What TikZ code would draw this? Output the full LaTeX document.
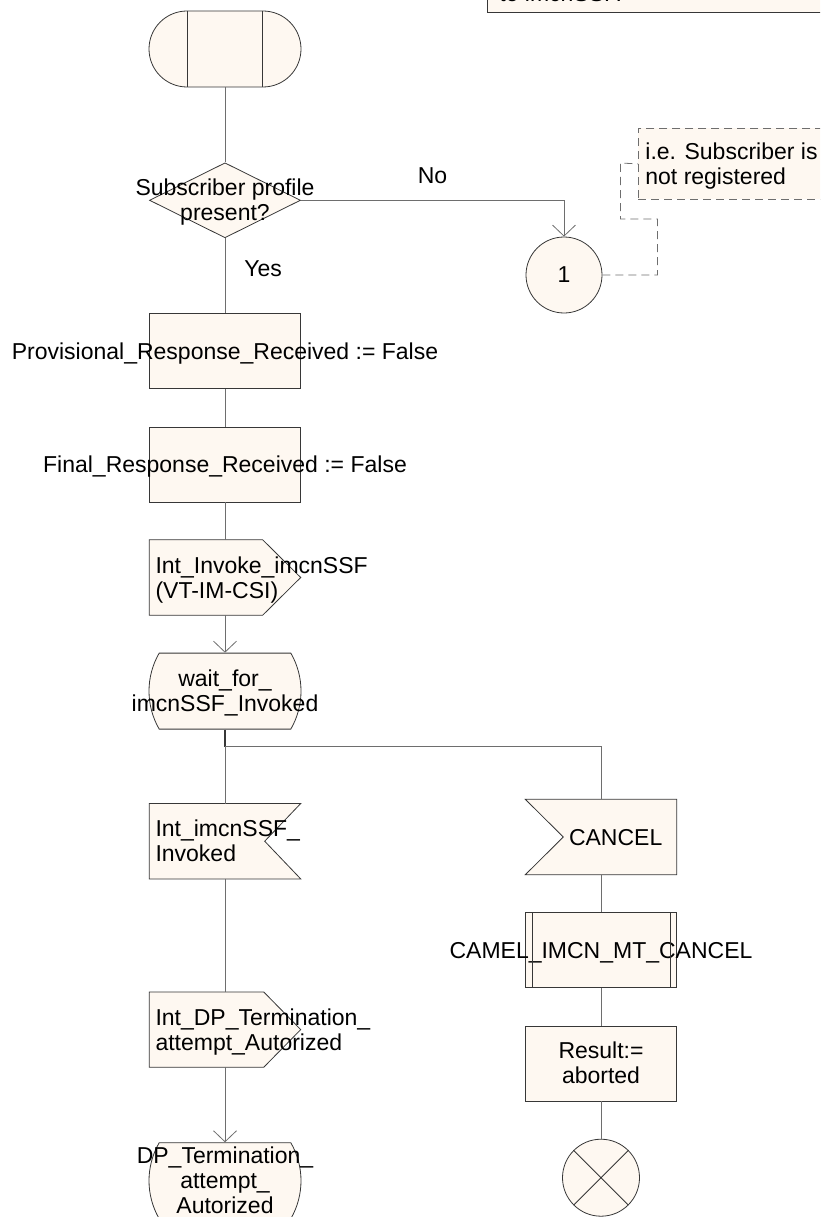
\documentclass[tikz,border=0pt]{standalone}
\usepackage{fontspec}
\setmainfont{Liberation Sans}
\usetikzlibrary{arrows.meta,positioning,shapes.geometric,shapes.misc,backgrounds}
\definecolor{sdlfill}{RGB}{254,248,241}
\definecolor{sdlline}{RGB}{55,55,55}
\definecolor{flowline}{RGB}{110,110,110}
% text that may run past the symbol edges
\newcommand\midtxt[1]{\raisebox{-3pt}[\height][\depth]{\makebox[0pt]{\begin{tabular}{@{}c@{}}#1\end{tabular}}}}
\newcommand\lefttxt[2]{\raisebox{-3pt}[\height][\depth]{\makebox[#1][l]{\begin{tabular}{@{}l@{}}#2\end{tabular}}}}

\begin{document}
\begin{tikzpicture}[x=1pt, y=1pt,
  font=\fontsize{23}{25}\selectfont,
  inner sep=0pt, node distance=37.5pt,
  sym/.style={draw=sdlline, fill=sdlfill, line width=0.8pt},
  task/.style={sym, rectangle, minimum width=151pt, minimum height=75pt},
  dec/.style={sym, diamond, aspect=2, minimum width=151pt, minimum height=75pt},
  state/.style={sym, rounded rectangle, rounded rectangle arc length=60,
  minimum width=152pt, minimum height=76pt},
  sig/.style={rectangle, minimum width=151pt, minimum height=75pt},
  conn/.style={sym, circle, minimum size=76pt},
  dashln/.style={draw=flowline, line width=0.8pt, dash pattern=on 8pt off 5pt},
  link/.style={draw=flowline, line width=0.8pt},
  arrow/.style={link, -{Straight Barb[length=11pt,width=23pt]}}]
\useasboundingbox (0,0) rectangle (820,-1217);
\clip (0,0) rectangle (820,-1217);

% left column
\node[sym, rounded rectangle, minimum width=152pt, minimum height=76pt] (start) at (225,-49) {};
\draw[draw=sdlline, line width=0.8pt] ([xshift=-37.5pt]start.north) -- ([xshift=-37.5pt]start.south)
  ([xshift=37.5pt]start.north) -- ([xshift=37.5pt]start.south);
\node[dec, below=75pt of start] (query) {\midtxt{Subscriber profile\\present?}};
\node[task, below=75pt of query] (prov) {\midtxt{Provisional\_Response\_Received := False}};
\node[task, below=of prov] (final) {\midtxt{Final\_Response\_Received := False}};
\node[sig, below=of final] (invoke) {\lefttxt{139pt}{Int\_Invoke\_imcnSSF\\(VT-IM-CSI)}};
\node[state, below=of invoke] (wait) {\midtxt{wait\_for\_\\imcnSSF\_Invoked}};
\coordinate[below=17pt of wait] (fork);
\node[sig, below=74pt of wait] (invoked) {\lefttxt{139pt}{Int\_imcnSSF\_\\Invoked}};
\node[sig, below=113pt of invoked] (authorized) {\lefttxt{139pt}{Int\_DP\_Termination\_\\attempt\_Autorized}};
\node[state, below=75pt of authorized] (dpstate) {\midtxt{DP\_Termination\_\\attempt\_\\Autorized}};

% right side
\node[conn] (c1) at (564,-275) {1};
\node[sym, dashed, dash pattern=on 8pt off 5pt, draw=flowline, anchor=north west,
  minimum height=71pt, inner xsep=7pt] (remark) at (638,-128)
  {\lefttxt{186pt}{i.e. Subscriber is\\not registered}};
\node[sym, anchor=south west, inner xsep=12pt, inner ysep=6.5pt] (header) at (487,-13)
  {\lefttxt{330pt}{to imcnSSF.}};
\node[sig] (cancel) at (601,-837) {\lefttxt{64pt}{CANCEL}};
\node[task, below=of cancel] (camel) {\midtxt{CAMEL\_IMCN\_MT\_CANCEL}};
\draw[draw=sdlline, line width=0.8pt] ([xshift=7pt]camel.north west) -- ([xshift=7pt]camel.south west)
  ([xshift=-7pt]camel.north east) -- ([xshift=-7pt]camel.south east);
\node[task, below=of camel] (result) {\midtxt{Result:=\\aborted}};
\node[conn, below=of result, minimum size=77pt] (stop) {};
\draw[draw=sdlline, line width=0.8pt] (stop.north west) -- (stop.south east)
  (stop.north east) -- (stop.south west);

% signal symbols
\begin{scope}[on background layer]
\path[sym] (invoke.north west) -- ([xshift=-38pt]invoke.north east) -- (invoke.east)
  -- ([xshift=-38pt]invoke.south east) -- (invoke.south west) -- cycle;
\path[sym] (authorized.north west) -- ([xshift=-37pt]authorized.north east) -- (authorized.east)
  -- ([xshift=-37pt]authorized.south east) -- (authorized.south west) -- cycle;
\path[sym] (invoked.north west) -- (invoked.north east) -- ([xshift=-36pt]invoked.east)
  -- (invoked.south east) -- (invoked.south west) -- cycle;
\path[sym] (cancel.north west) -- (cancel.north east) -- (cancel.south east)
  -- (cancel.south west) -- ([xshift=38pt]cancel.west) -- cycle;
\end{scope}

% connectors
\draw[link] (start) -- (query);
\draw[arrow] (query.east) -| node[pos=0.25, above=16pt] {No} (c1.north);
\draw[link] (query) -- node[pos=0.41, right=19pt] {Yes} (prov);
\draw[dashln] (c1.east) -- ++(55,0) -- ++(0,56) -- ++(-37,0) -- ++(0,56) -- (remark.west);
\draw[link] (prov) -- (final);
\draw[link] (final) -- (invoke);
\draw[arrow] (invoke) -- (wait);
\draw[draw=sdlline, line width=1.4pt] (wait) -- (fork);
\draw[link] (fork) -- (invoked);
\draw[link] (fork) -| (cancel);
\draw[link] (invoked) -- (authorized);
\draw[arrow] (authorized) -- (dpstate);
\draw[link] (cancel) -- (camel);
\draw[link] (camel) -- (result);
\draw[link] (result) -- (stop);
\end{tikzpicture}
\end{document}
